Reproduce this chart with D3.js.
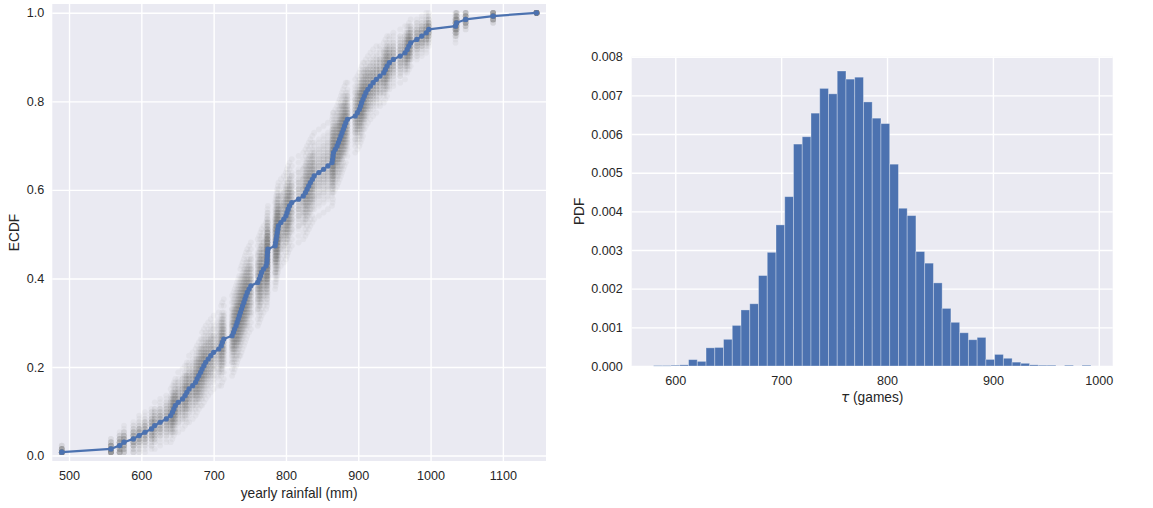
<!DOCTYPE html>
<html>
<head>
<meta charset="utf-8">
<script src="https://cdn.jsdelivr.net/npm/d3@7/dist/d3.min.js"></script>
<style>
  html, body { margin: 0; padding: 0; background: #ffffff; }
  svg { display: block; }
  text { font-family: "Liberation Sans", Arial, sans-serif; fill: #262626; }
</style>
</head>
<body>
<svg id="chart" width="1153" height="508"></svg>
<script>
// ---------------- DATA ----------------
// sorted yearly rainfall values (mm), read from the ECDF
const rainfallSorted = [
  490, 558, 570, 576, 589, 597, 605, 614, 618.5, 626,
  634.5, 640.5, 643, 645, 647, 651, 657, 660.5, 663, 666,
  671, 675, 677, 679.5, 682, 684, 686.5, 689, 692.5, 696,
  700, 707, 710.5, 712, 714, 725.5, 727.5, 729, 731, 732.5,
  734, 735.5, 737, 738.5, 740, 741.8, 743.3, 744.8, 746.5, 749,
  751.5, 761, 763, 764.8, 766.3, 769, 772.5, 773.7, 774, 774.2,
  774.5, 775, 785, 785.7, 786.5, 787.3, 788, 788.8, 789.6, 793,
  797, 800, 801.5, 803, 805, 808, 817.5, 824, 827, 829.2,
  831.5, 833.8, 836.5, 839, 845.5, 852, 858, 863.7, 864.5, 865.1,
  865.8, 868.2, 870.7, 872.5, 874.2, 876, 877.6, 879.3, 881, 882.8,
  885, 895.8, 898.8, 901.5, 903.2, 904.7, 906.5, 908.4, 910.5, 913.3,
  916.8, 920.6, 925, 930, 935.3, 937.5, 939.9, 943, 948.5, 958,
  964.7, 967.7, 970, 972.5, 981, 987.8, 994, 997.5, 1034.5, 1036,
  1048.5, 1086.5, 1146.5
];
// bootstrap replicate offsets (standard-normal quantiles of 50 replicates)
const bootstrapZ = [
  -2.326, -1.881, -1.645, -1.476, -1.341, -1.227, -1.126, -1.036, -0.954, -0.878,
  -0.806, -0.739, -0.674, -0.613, -0.553, -0.496, -0.440, -0.385, -0.332, -0.279,
  -0.228, -0.176, -0.126, -0.075, -0.025, 0.025, 0.075, 0.126, 0.176, 0.228,
  0.279, 0.332, 0.385, 0.440, 0.496, 0.553, 0.613, 0.674, 0.739, 0.806,
  0.878, 0.954, 1.036, 1.126, 1.227, 1.341, 1.476, 1.645, 1.881, 2.326
];
const rainfallTicks = [500, 600, 700, 800, 900, 1000, 1100];
const ecdfTicks = [0.0, 0.2, 0.4, 0.6, 0.8, 1.0];

// histogram of tau (50 bins, density)
const tauRange = [579.5, 992.5];
const pdfValues = [
  0.000012, 0.000012, 0.00002, 0.00003, 0.000165, 0.00012, 0.00047, 0.00048, 0.00069, 0.00105,
  0.00145, 0.00161, 0.00234, 0.00294, 0.00365, 0.00438, 0.00574, 0.00593, 0.00654, 0.00718,
  0.00704, 0.00763, 0.00742, 0.00747, 0.00683, 0.00641, 0.00627, 0.00522, 0.00408, 0.00389,
  0.00296, 0.00266, 0.00215, 0.00149, 0.00113, 0.00086, 0.00068, 0.00074, 0.00017, 0.0003,
  0.0002, 0.0001, 0.00007, 0.00003, 0.00002, 0.00002, 0, 0.00002, 0, 0.00002
];
const tauTicks = [600, 700, 800, 900, 1000];
const pdfTicks = [0, 0.001, 0.002, 0.003, 0.004, 0.005, 0.006, 0.007, 0.008];

// ---------------- LAYOUT ----------------
const svg = d3.select("#chart");
const BG = "#EAEAF2", BLUE = "#4C72B0";
const TICK_FS = 12.6, LABEL_FS = 13.75;

function styleAxis(g) {
  g.select(".domain").remove();
  g.selectAll(".tick line").attr("stroke", "#ffffff").attr("stroke-width", 1.4);
  g.selectAll(".tick text").style("font-size", TICK_FS + "px").attr("fill", "#262626");
  g.attr("font-family", null);
}

// ---------- Left panel: ECDF ----------
const L = { x0: 52.3, x1: 546, y0: 4, y1: 461 };
const n = rainfallSorted.length;
const ecdfY = rainfallSorted.map((d, i) => (i + 1) / n);
const xr = d3.extent(rainfallSorted), xm = (xr[1] - xr[0]) * 0.02;
const yr = [1 / n, 1], ym = (yr[1] - yr[0]) * 0.02;
const xL = d3.scaleLinear().domain([xr[0] - xm, xr[1] + xm]).range([L.x0, L.x1]);
const yL = d3.scaleLinear().domain([yr[0] - ym, yr[1] + ym]).range([L.y1, L.y0]);

const gL = svg.append("g");
gL.append("rect").attr("x", L.x0).attr("y", L.y0)
  .attr("width", L.x1 - L.x0).attr("height", L.y1 - L.y0).attr("fill", BG);

gL.append("g").attr("transform", `translate(0,${L.y1})`)
  .call(d3.axisBottom(xL).tickValues(rainfallTicks).tickFormat(d3.format("d"))
        .tickSizeInner(-(L.y1 - L.y0)).tickSizeOuter(0).tickPadding(10))
  .call(styleAxis);
gL.append("g").attr("transform", `translate(${L.x0},0)`)
  .call(d3.axisLeft(yL).tickValues(ecdfTicks).tickFormat(d3.format(".1f"))
        .tickSizeInner(-(L.x1 - L.x0)).tickSizeOuter(0).tickPadding(8))
  .call(styleAxis);

// bootstrap replicate points
const bootPts = [];
bootstrapZ.forEach(z => {
  rainfallSorted.forEach((v, i) => {
    const F = ecdfY[i];
    const sd = Math.sqrt(F * (1 - F) / n);
    let y = F + z * sd;
    y = Math.max(1 / n, Math.min(1, Math.round(y * n) / n));
    bootPts.push([v, y]);
  });
});
gL.append("g").selectAll("circle").data(bootPts).join("circle")
  .attr("cx", d => xL(d[0])).attr("cy", d => yL(d[1])).attr("r", 2.9)
  .attr("fill", "#808080").attr("fill-opacity", 0.07);

// observed ECDF line + markers
const ecdfPts = rainfallSorted.map((v, i) => [v, ecdfY[i]]);
gL.append("path").datum(ecdfPts)
  .attr("d", d3.line().x(d => xL(d[0])).y(d => yL(d[1])))
  .attr("fill", "none").attr("stroke", BLUE).attr("stroke-width", 2.2)
  .attr("stroke-linejoin", "round");
gL.append("g").selectAll("circle").data(ecdfPts).join("circle")
  .attr("cx", d => xL(d[0])).attr("cy", d => yL(d[1])).attr("r", 2.6)
  .attr("fill", BLUE);

gL.append("text").attr("x", (L.x0 + L.x1) / 2).attr("y", L.y1 + 36.5)
  .attr("text-anchor", "middle").style("font-size", LABEL_FS + "px")
  .text("yearly rainfall (mm)");
gL.append("text").attr("transform", `translate(19,${(L.y0 + L.y1) / 2}) rotate(-90)`)
  .attr("text-anchor", "middle").style("font-size", LABEL_FS + "px").text("ECDF");

// ---------- Right panel: PDF histogram ----------
const R = { x0: 631.7, x1: 1112.7, y0: 56.7, y1: 366 };
const nb = pdfValues.length;
const bw = (tauRange[1] - tauRange[0]) / nb;
const bins = pdfValues.map((p, i) => ({ x0: tauRange[0] + i * bw, x1: tauRange[0] + (i + 1) * bw, p }));
const tm = (tauRange[1] - tauRange[0]) * 0.05;
const xR = d3.scaleLinear().domain([tauRange[0] - tm, tauRange[1] + tm]).range([R.x0, R.x1]);
const yR = d3.scaleLinear().domain([0, 0.008]).range([R.y1, R.y0]);

const gR = svg.append("g");
gR.append("rect").attr("x", R.x0).attr("y", R.y0)
  .attr("width", R.x1 - R.x0).attr("height", R.y1 - R.y0).attr("fill", BG);
gR.append("g").attr("transform", `translate(0,${R.y1})`)
  .call(d3.axisBottom(xR).tickValues(tauTicks).tickFormat(d3.format("d"))
        .tickSizeInner(-(R.y1 - R.y0)).tickSizeOuter(0).tickPadding(10))
  .call(styleAxis);
gR.append("g").attr("transform", `translate(${R.x0},0)`)
  .call(d3.axisLeft(yR).tickValues(pdfTicks).tickFormat(d3.format(".3f"))
        .tickSizeInner(-(R.x1 - R.x0)).tickSizeOuter(0).tickPadding(9))
  .call(styleAxis);

gR.append("g").selectAll("rect").data(bins.filter(d => d.p > 0)).join("rect")
  .attr("x", d => xR(d.x0)).attr("width", d => xR(d.x1) - xR(d.x0))
  .attr("y", d => yR(d.p)).attr("height", d => Math.max(0.6, yR(0) - yR(d.p)))
  .attr("fill", BLUE).attr("stroke", "#ffffff").attr("stroke-opacity", 0.35)
  .attr("stroke-width", 0.9);

const xl = gR.append("text").attr("x", (R.x0 + R.x1) / 2).attr("y", R.y1 + 36)
  .attr("text-anchor", "middle").style("font-size", LABEL_FS + "px");
xl.append("tspan").style("font-style", "italic").style("font-family", "'DejaVu Sans', sans-serif").text("τ");
xl.append("tspan").text(" (games)");
gR.append("text").attr("transform", `translate(584,${(R.y0 + R.y1) / 2}) rotate(-90)`)
  .attr("text-anchor", "middle").style("font-size", LABEL_FS + "px").text("PDF");
</script>
</body>
</html>
